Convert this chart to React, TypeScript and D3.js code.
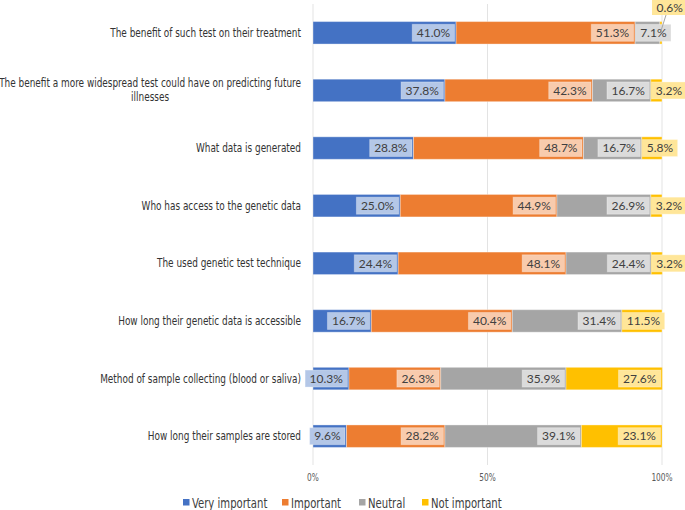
import React, { useEffect, useRef } from "react";
import * as d3 from "d3";

const categories = [
  "The benefit of such test on their treatment",
  "The benefit a more widespread test could have on predicting future illnesses",
  "What data is generated",
  "Who has access to the genetic data",
  "The used genetic test technique",
  "How long their genetic data is accessible",
  "Method of sample collecting (blood or saliva)",
  "How long their samples are stored",
];
const seriesNames = ["Very important", "Important", "Neutral", "Not important"];
const veryImportant = [41.0, 37.8, 28.8, 25.0, 24.4, 16.7, 10.3, 9.6];
const important = [51.3, 42.3, 48.7, 44.9, 48.1, 40.4, 26.3, 28.2];
const neutral = [7.1, 16.7, 16.7, 26.9, 24.4, 31.4, 35.9, 39.1];
const notImportant = [0.6, 3.2, 5.8, 3.2, 3.2, 11.5, 27.6, 23.1];
const tickValues = [0, 50, 100];
const colors = ["#4472c4", "#ed7d31", "#a5a5a5", "#ffc000"];
const labelFills = ["#b4c7e7", "#f8cbad", "#dbdbdb", "#ffe699"];

const W = 685, H = 510;
const catFont = "'DejaVu Sans Condensed', 'DejaVu Sans', sans-serif";
const valFont = "Lato, 'Open Sans', sans-serif";

function condense(t: d3.Selection<SVGTextElement, unknown, null, undefined>, f = 0.825) {
  const w = (t.node() as SVGTextElement).getComputedTextLength();
  t.attr("textLength", w * f).attr("lengthAdjust", "spacingAndGlyphs");
  return w * f;
}

export default function App() {
  const ref = useRef<SVGSVGElement>(null);
  useEffect(() => {
    const svg = d3.select(ref.current);
    svg.selectAll("*").remove();
    const x = d3.scaleLinear().domain([0, 100]).range([313, 662]);
    const y = d3.scaleBand().domain(categories).range([4, 465]).paddingInner(0.61).paddingOuter(0.305);
    const series = [veryImportant, important, neutral, notImportant];

    // gridlines
    svg.append("g").selectAll("line").data(tickValues).join("line")
      .attr("x1", d => x(d)).attr("x2", d => x(d)).attr("y1", 4).attr("y2", 465)
      .attr("stroke", "#e3e3e3").attr("stroke-width", 1);
    // tick labels
    const tg = svg.append("g");
    tickValues.forEach(v => {
      const t = tg.append("text").attr("x", x(v)).attr("y", 481).attr("text-anchor", "middle")
        .attr("font-family", catFont).attr("font-size", 10).attr("fill", "#595959")
        .text(v + "%");
      condense(t as any);
    });

    // category labels
    const catG = svg.append("g");
    const fs = 12;
    categories.forEach(c => {
      const cy = y(c)! + y.bandwidth() / 2;
      if (c.length > 60) {
        const words = c.split(" ");
        const l1 = words.slice(0, -1).join(" ");
        const l2 = words[words.length - 1];
        const t1 = catG.append("text").attr("x", 301).attr("y", cy - 7 + 4).attr("text-anchor", "end")
          .attr("font-family", catFont).attr("font-size", fs).attr("fill", "#333333").text(l1);
        const w1 = condense(t1 as any);
        const t2 = catG.append("text").attr("x", 301 - w1 / 2).attr("y", cy + 7 + 4).attr("text-anchor", "middle")
          .attr("font-family", catFont).attr("font-size", fs).attr("fill", "#333333").text(l2);
        condense(t2 as any);
      } else {
        const t = catG.append("text").attr("x", 301).attr("y", cy + 4).attr("text-anchor", "end")
          .attr("font-family", catFont).attr("font-size", fs).attr("fill", "#333333").text(c);
        condense(t as any);
      }
    });

    // bars
    const barG = svg.append("g");
    const segs: any[] = [];
    categories.forEach((c, i) => {
      let acc = 0;
      series.forEach((s, k) => {
        const v = s[i];
        segs.push({ c, k, v, x0: acc, x1: acc + v, i });
        acc += v;
      });
    });
    barG.selectAll("rect").data(segs).join("rect")
      .attr("x", d => x(d.x0)).attr("width", d => x(d.x1) - x(d.x0))
      .attr("y", d => y(d.c)!).attr("height", y.bandwidth())
      .attr("fill", d => colors[d.k]).attr("stroke", "#ffffff").attr("stroke-opacity", 0.35).attr("stroke-width", 1);

    // value labels
    const labG = svg.append("g");
    segs.forEach(d => {
      const cy = y(d.c)! + y.bandwidth() / 2;
      const txt = d.v.toFixed(1) + "%";
      const g = labG.append("g");
      const rect = g.append("rect");
      const t = g.append("text").attr("font-family", valFont).attr("font-size", 12).attr("fill", "#404040")
        .attr("text-anchor", "middle").attr("y", cy + 4.2).text(txt);
      const tw = (t.node() as SVGTextElement).getComputedTextLength();
      const bw = tw + 9, bh = 17;
      if (d.k === 3 && d.v < 1) {
        const bx = 652, by = 0;
        svg.append("line").attr("x1", 666).attr("y1", by + 15).attr("x2", x(d.x1) - 1).attr("y2", cy - 2)
          .attr("stroke", "#a6a6a6").attr("stroke-width", 1);
        rect.attr("x", bx).attr("y", by).attr("width", bw).attr("height", 15).attr("fill", labelFills[d.k]);
        t.attr("x", bx + bw / 2).attr("y", by + 11.5);
        g.raise();
        return;
      }
      const segStart = x(d.x0), segEnd = x(d.x1);
      let bx = segEnd - 1.5 - bw;
      if (d.k > 0) bx = Math.max(bx, segStart + 0.5);
      rect.attr("x", bx).attr("y", cy - bh / 2).attr("width", bw).attr("height", bh)
        .attr("fill", labelFills[d.k]).attr("stroke", "#ffffff").attr("stroke-opacity", 0.3);
      t.attr("x", bx + bw / 2);
    });

    // legend
    const legItems = [
      { x: 183, tx: 192 }, { x: 282, tx: 291 }, { x: 359, tx: 368 }, { x: 422, tx: 431 },
    ];
    const legG = svg.append("g");
    seriesNames.forEach((n, k) => {
      legG.append("rect").attr("x", legItems[k].x).attr("y", 499).attr("width", 6.5).attr("height", 6.5).attr("fill", colors[k]);
      const t = legG.append("text").attr("x", legItems[k].tx).attr("y", 507.5).attr("font-family", catFont).attr("font-size", 13.5)
        .attr("fill", "#404040").text(n);
      condense(t as any, 0.83);
    });
  }, []);
  return (
    <svg ref={ref} width={W} height={H} style={{ position: "absolute", left: 0, top: 0, background: "#fff" }} />
  );
}
